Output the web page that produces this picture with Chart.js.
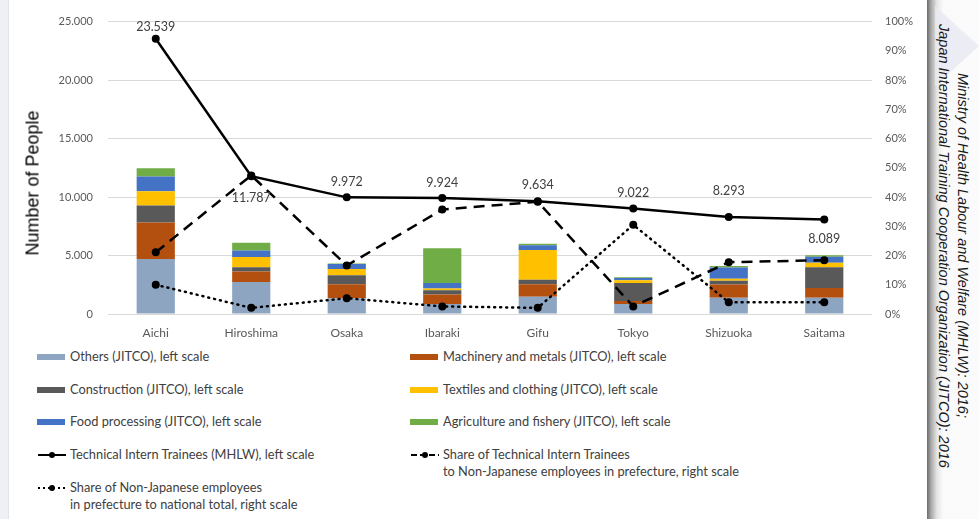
<!DOCTYPE html>
<html>
<head>
<meta charset="utf-8">
<script src="https://cdn.jsdelivr.net/npm/chart.js@4.4.0/dist/chart.umd.min.js"></script>
<style>
  body { margin: 0; width: 979px; height: 519px; background: #fff; position: relative; overflow: hidden; font-family: Lato, "Open Sans", sans-serif; }
  #leftStrip { position: absolute; left: 0; top: 0; width: 8px; height: 519px; background: #eef0f6; border-right: 1px solid #e2e4ec; }
  #chartBox { position: absolute; left: 0; top: 0; }
  #yTitle { position: absolute; left: 33px; top: 183px; transform: translate(-50%, -50%) rotate(-90deg); font-family: "Liberation Sans", Arial, sans-serif; font-size: 18px; font-weight: normal; color: #000; white-space: nowrap; }
  #legend { position: absolute; left: 0; top: 0; }
  .item { position: absolute; font-size: 12.8px; color: #404040; line-height: 17px; white-space: nowrap; }
  .sw { position: absolute; left: -33px; top: 6px; width: 28px; height: 6px; }
  .sw canvas { position: absolute; left: 0; top: -5px; }
  #side { position: absolute; left: 927px; top: 0; width: 52px; height: 519px; background: linear-gradient(to right, #6a6a6a 0px, #a8a8a8 4px, #e6e6e6 10px, #fafafa 16px, #fbfbfd 100%); }
  #tri { position: absolute; left: 935px; top: 6px; width: 44px; height: 80px; background: #e9e9f3; clip-path: polygon(0 0, 100% 50%, 0 100%); opacity: 0.8; }
  #source { position: absolute; left: 930px; top: -14px; width: 46px; height: 519px; writing-mode: vertical-rl; text-align: center; font-family: "Liberation Sans", Arial, sans-serif; font-style: italic; font-size: 14.5px; line-height: 19px; color: #1a1a1a; display: flex; align-items: center; justify-content: center; }
</style>
</head>
<body>
<div id="leftStrip"></div>
<div id="side"></div>
<div id="tri"></div>
<div id="source"><div>Ministry of Health Labour and Welfare (MHLW): 2016;<br>Japan International Training Cooperation Organization (JITCO): 2016</div></div>
<div id="chartBox"><canvas id="chart" width="925" height="344"></canvas></div>
<div id="yTitle">Number of People</div>
<div id="legend"></div>
<script>
const prefectures = ['Aichi', 'Hiroshima', 'Osaka', 'Ibaraki', 'Gifu', 'Tokyo', 'Shizuoka', 'Saitama'];

// JITCO breakdown by sector (persons)
const others       = [4700, 2740, 1340, 860, 1480, 860, 1390, 1390];
const machinery    = [3130, 900, 1200, 800, 1060, 250, 1130, 840];
const construction = [1450, 360, 780, 360, 390, 1540, 330, 1765];
const textiles     = [1210, 870, 530, 150, 2550, 230, 170, 395];
const food         = [1260, 555, 420, 480, 390, 190, 950, 500];
const agriculture  = [720, 670, 40, 2980, 140, 80, 140, 140];

// MHLW totals
const trainees = [23539, 11787, 9972, 9924, 9634, 9022, 8293, 8089];

// shares in %, right scale
const shareTrainees  = [21.1, 47.4, 16.6, 35.7, 38.4, 2.6, 17.7, 18.4];
const shareEmployees = [10.0, 2.1, 5.4, 2.6, 2.1, 30.5, 4.0, 4.0];

const leftTicks = [0, 5000, 10000, 15000, 20000, 25000];

const fmt = v => String(v).replace(/\B(?=(\d{3})+(?!\d))/g, '.');

// label offsets for the MHLW values (px, relative to point)
const labelDy = [-12, 22, -15, -15, -16, -16, -26, 20];

function bar(label, data, color) {
  return { type: 'bar', label: label, data: data, backgroundColor: color, stack: 'jitco', yAxisID: 'y', order: 2, categoryPercentage: 1, barPercentage: 0.4 };
}

const valueLabels = {
  id: 'valueLabels',
  afterDatasetsDraw(chart) {
    const ctx = chart.ctx;
    const meta = chart.getDatasetMeta(6);
    ctx.save();
    ctx.font = '12.5px Lato, sans-serif';
    ctx.fillStyle = '#404040';
    ctx.textAlign = 'center';
    ctx.textBaseline = 'middle';
    meta.data.forEach((pt, i) => {
      ctx.fillText(fmt(trainees[i]), pt.x, pt.y + labelDy[i]);
    });
    ctx.restore();
  }
};

new Chart(document.getElementById('chart').getContext('2d'), {
  data: {
    labels: prefectures,
    datasets: [
      bar('Others (JITCO), left scale', others, '#8ea5c2'),
      bar('Machinery and metals (JITCO), left scale', machinery, '#b4500f'),
      bar('Construction (JITCO), left scale', construction, '#595959'),
      bar('Textiles and clothing (JITCO), left scale', textiles, '#ffc000'),
      bar('Food processing (JITCO), left scale', food, '#4472c4'),
      bar('Agriculture and fishery (JITCO), left scale', agriculture, '#70ad47'),
      {
        type: 'line', label: 'Technical Intern Trainees (MHLW), left scale',
        data: trainees, yAxisID: 'y', stack: 'mhlw', order: 0,
        borderColor: '#000', borderWidth: 2.5, tension: 0,
        pointRadius: 4, pointBackgroundColor: '#000', pointBorderWidth: 0
      },
      {
        type: 'line', label: 'Share of Technical Intern Trainees to Non-Japanese employees in prefecture, right scale',
        data: shareTrainees, yAxisID: 'y1', order: 0,
        borderColor: '#000', borderWidth: 2.5, borderDash: [11, 7], tension: 0,
        pointRadius: 4, pointBackgroundColor: '#000', pointBorderWidth: 0
      },
      {
        type: 'line', label: 'Share of Non-Japanese employees in prefecture to national total, right scale',
        data: shareEmployees, yAxisID: 'y1', order: 0,
        borderColor: '#000', borderWidth: 2.5, borderDash: [1, 5], borderCapStyle: 'round', tension: 0,
        pointRadius: 4, pointBackgroundColor: '#000', pointBorderWidth: 0
      }
    ]
  },
  options: {
    responsive: false,
    animation: false,
    layout: { padding: { top: 16, left: 0, right: 0, bottom: 0 } },
    plugins: { legend: { display: false }, tooltip: { enabled: false } },
    scales: {
      x: {
        stacked: true,
        grid: { display: false, drawTicks: false },
        border: { display: false },
        ticks: { color: '#595959', font: { family: 'Lato', size: 12 }, padding: 12 },
        afterFit: s => { s.height = 30; }
      },
      y: {
        stacked: true,
        position: 'left',
        min: 0, max: 25000,
        afterBuildTicks: s => { s.ticks = leftTicks.map(v => ({ value: v })); },
        grid: { color: '#d9d9d9', lineWidth: 1, drawTicks: false },
        border: { display: false },
        ticks: { color: '#595959', font: { family: 'Lato', size: 11 }, padding: 15, callback: v => fmt(v) },
        afterFit: s => { s.width = 108; }
      },
      y1: {
        position: 'right',
        min: 0, max: 100,
        grid: { display: false, drawTicks: false },
        border: { display: false },
        ticks: { stepSize: 10, color: '#595959', font: { family: 'Lato', size: 11 }, padding: 13, callback: v => v + '%' },
        afterFit: s => { s.width = 53; }
      }
    }
  },
  plugins: [valueLabels]
});

// legend (two columns, like the original)
const legendItems = [
  { text: 'Others (JITCO), left scale', kind: 'box', color: '#8ea5c2', x: 70, y: 348 },
  { text: 'Machinery and metals (JITCO), left scale', kind: 'box', color: '#b4500f', x: 443, y: 348 },
  { text: 'Construction (JITCO), left scale', kind: 'box', color: '#595959', x: 70, y: 381 },
  { text: 'Textiles and clothing (JITCO), left scale', kind: 'box', color: '#ffc000', x: 443, y: 381 },
  { text: 'Food processing (JITCO), left scale', kind: 'box', color: '#4472c4', x: 70, y: 413 },
  { text: 'Agriculture and fishery (JITCO), left scale', kind: 'box', color: '#70ad47', x: 443, y: 413 },
  { text: 'Technical Intern Trainees (MHLW), left scale', kind: 'line', dash: [], x: 70, y: 446 },
  { text: 'Share of Technical Intern Trainees<br>to Non-Japanese employees in prefecture, right scale', kind: 'line', dash: [6, 3], x: 443, y: 446 },
  { text: 'Share of Non-Japanese employees<br>in prefecture to national total, right scale', kind: 'line', dash: [2, 3], x: 70, y: 479 }
];
const legend = document.getElementById('legend');
legendItems.forEach(it => {
  const d = document.createElement('div');
  d.className = 'item';
  d.style.left = it.x + 'px';
  d.style.top = it.y + 'px';
  d.innerHTML = it.text;
  const sw = document.createElement('div');
  sw.className = 'sw';
  if (it.kind === 'box') {
    sw.style.background = it.color;
  } else {
    const c = document.createElement('canvas');
    c.width = 30; c.height = 16;
    const g = c.getContext('2d');
    g.strokeStyle = '#000';
    g.lineWidth = 2;
    g.setLineDash(it.dash);
    g.beginPath(); g.moveTo(1, 8); g.lineTo(29, 8); g.stroke();
    g.setLineDash([]);
    g.beginPath(); g.arc(15, 8, 3, 0, Math.PI * 2); g.fillStyle = '#000'; g.fill();
    sw.appendChild(c);
  }
  d.appendChild(sw);
  legend.appendChild(d);
});
</script>
</body>
</html>
